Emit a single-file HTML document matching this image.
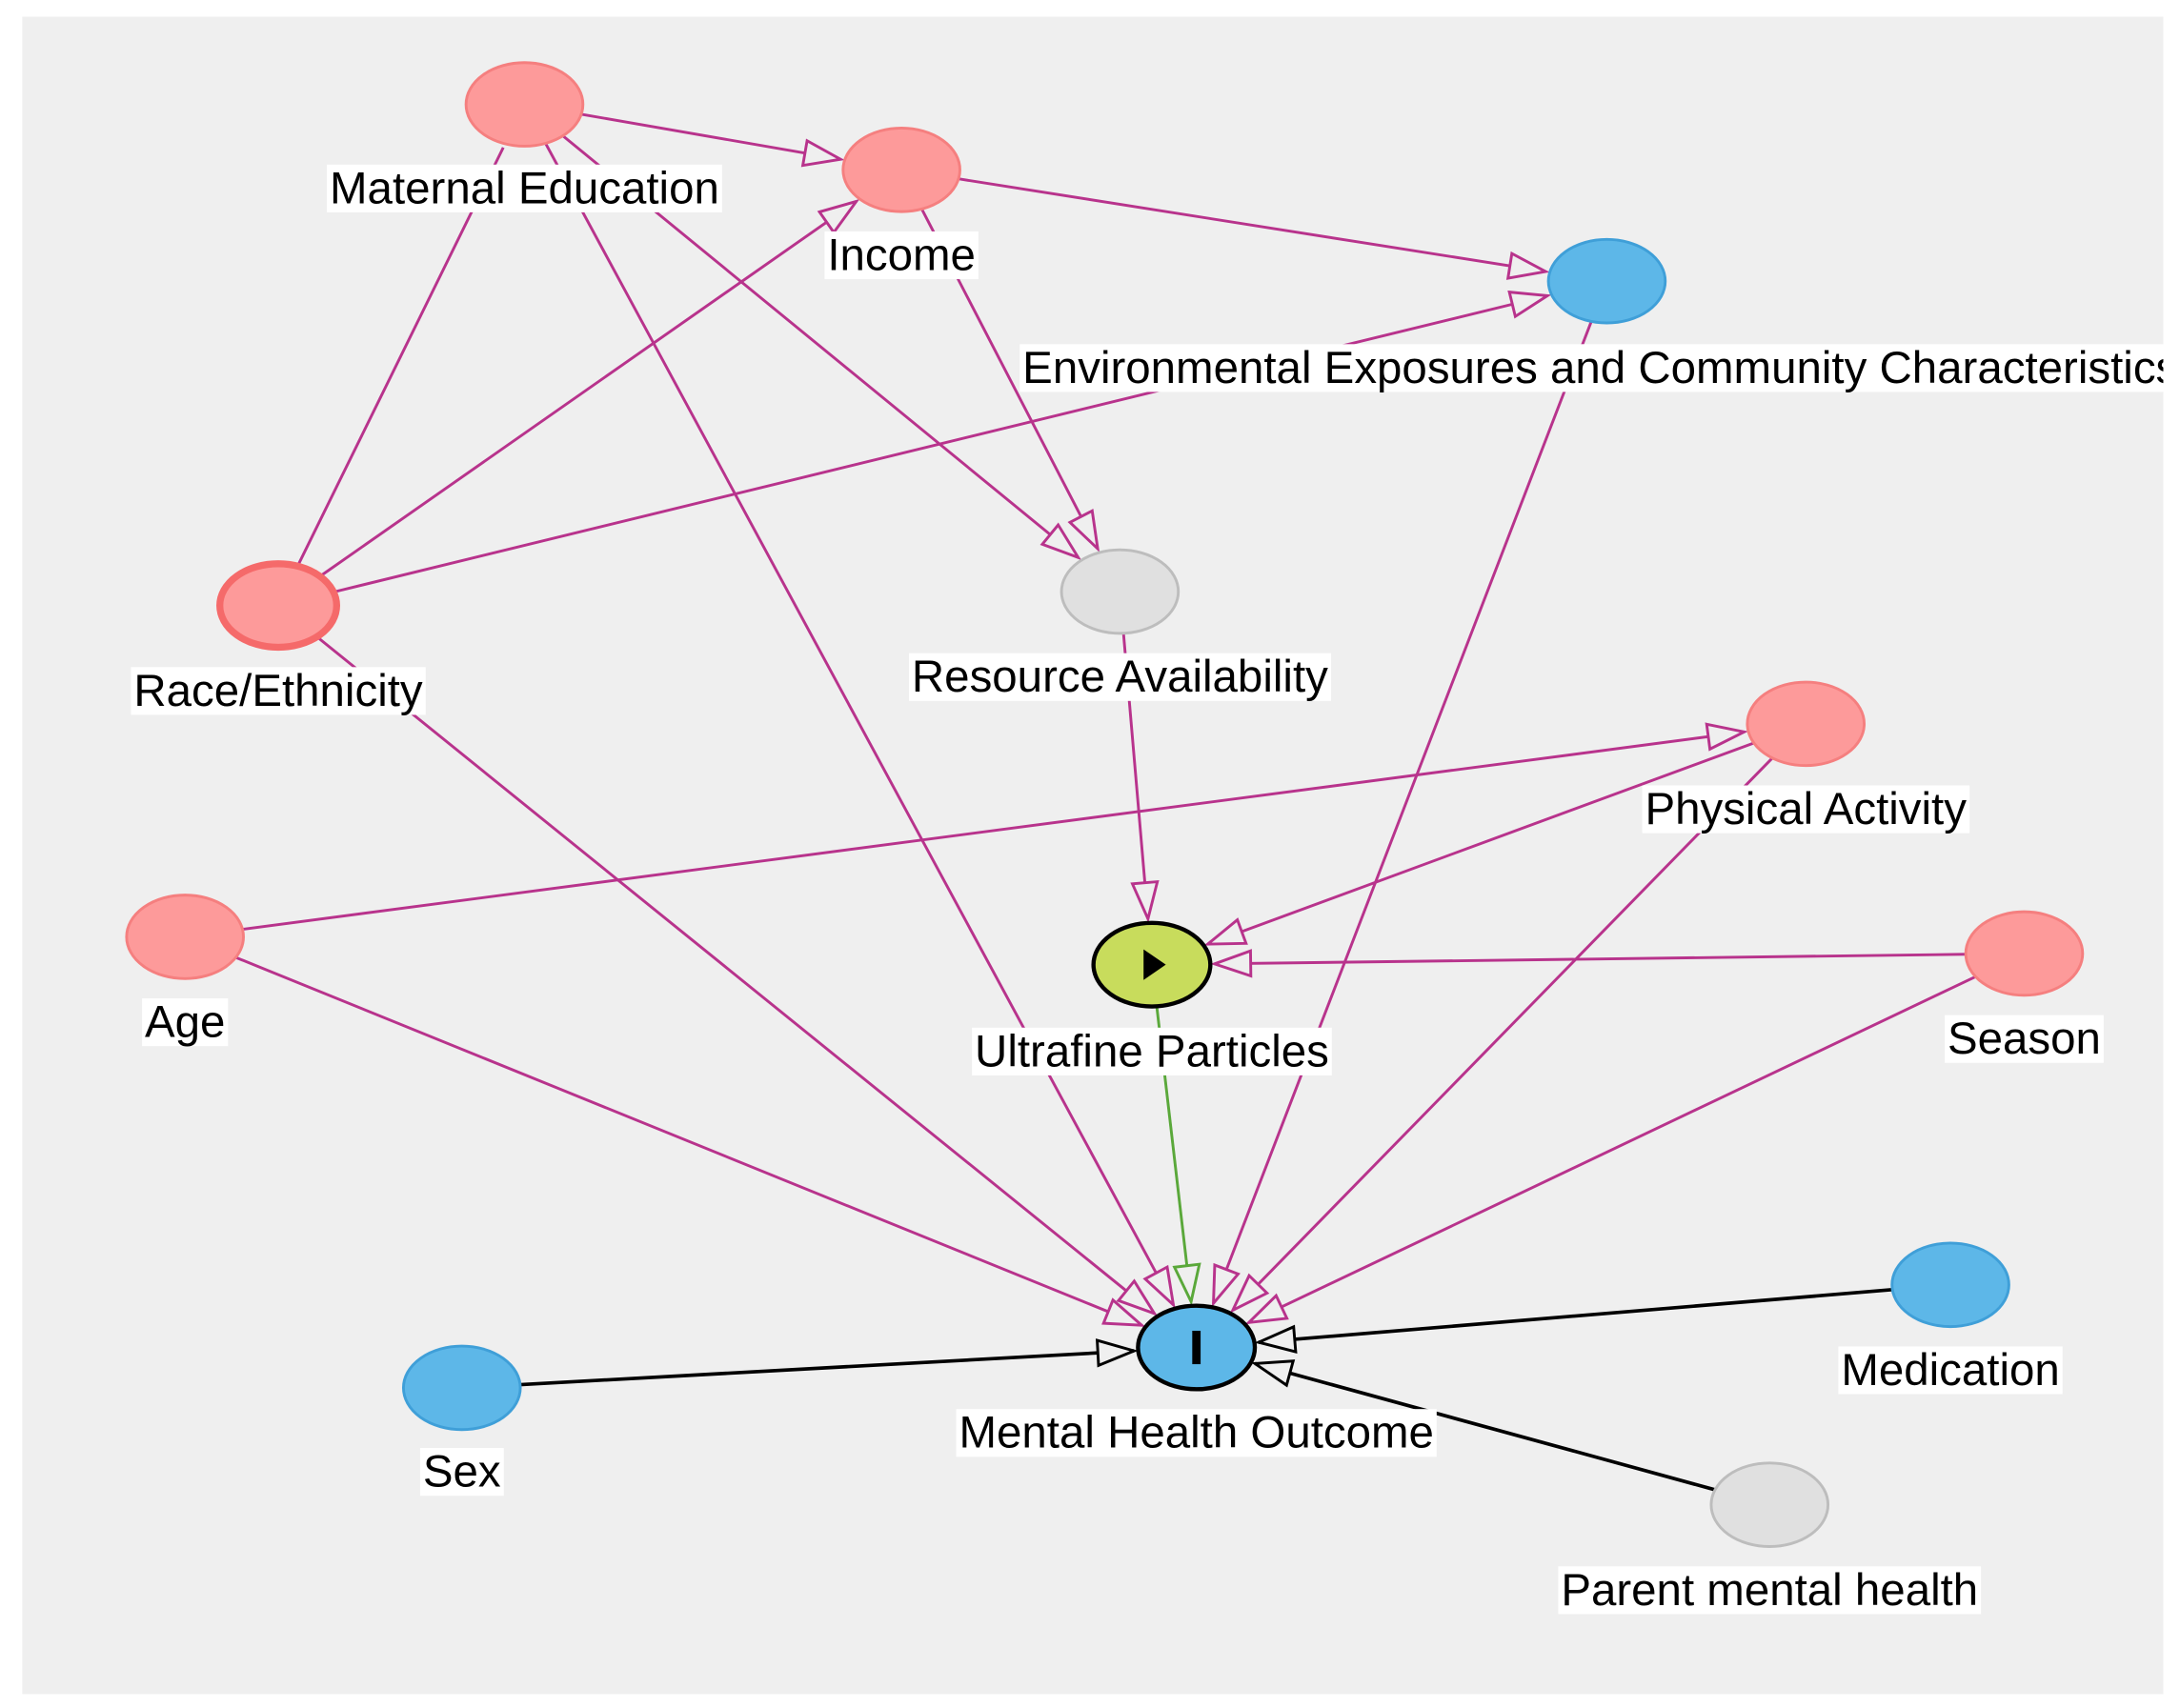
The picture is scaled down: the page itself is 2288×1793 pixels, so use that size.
<!DOCTYPE html>
<html><head><meta charset="utf-8"><style>
html,body{margin:0;padding:0;background:#fff;}
svg{display:block;}
text{font-family:"Liberation Sans",Arial,sans-serif;font-size:32.5px;fill:#000;}
</style></head><body>
<svg id="s" width="2288" height="1793" viewBox="0 0 1567 1227" preserveAspectRatio="none" xmlns="http://www.w3.org/2000/svg">
<defs>
<marker id="mp" markerUnits="userSpaceOnUse" markerWidth="32" markerHeight="24" refX="28" refY="11" orient="auto"><path d="M2,2 L28,11 L2,20 Z" fill="#efefef" stroke="#b8338c" stroke-width="2"/></marker>
<marker id="mg" markerUnits="userSpaceOnUse" markerWidth="32" markerHeight="24" refX="28" refY="11" orient="auto"><path d="M2,2 L28,11 L2,20 Z" fill="#efefef" stroke="#5aa83a" stroke-width="2"/></marker>
<marker id="mk" markerUnits="userSpaceOnUse" markerWidth="32" markerHeight="24" refX="28" refY="11" orient="auto"><path d="M2,2 L28,11 L2,20 Z" fill="#efefef" stroke="#000" stroke-width="2"/></marker>
<clipPath id="cp"><rect x="16" y="12" width="1539" height="1205"/></clipPath>
</defs>
<rect x="16" y="12" width="1539" height="1205" fill="#efefef"/>
<g id="edges"></g>
<g id="labels" clip-path="url(#cp)">
<text x="377" y="146" text-anchor="middle">Maternal Education</text>
<text x="648" y="194" text-anchor="middle">Income</text>
<text x="735" y="275">Environmental Exposures and Community Characteristics</text>
<text x="200" y="507" text-anchor="middle">Race/Ethnicity</text>
<text x="805" y="497" text-anchor="middle">Resource Availability</text>
<text x="1298" y="592" text-anchor="middle">Physical Activity</text>
<text x="133" y="745" text-anchor="middle">Age</text>
<text x="828" y="766" text-anchor="middle">Ultrafine Particles</text>
<text x="1455" y="757" text-anchor="middle">Season</text>
<text x="1402" y="995" text-anchor="middle">Medication</text>
<text x="860" y="1040" text-anchor="middle">Mental Health Outcome</text>
<text x="332" y="1068" text-anchor="middle">Sex</text>
<text x="1272" y="1153" text-anchor="middle">Parent mental health</text>
</g>
<g id="nodes"></g>
</svg>
<script>
var N={
ME:[377,75,'#fd9a9a','#f57f7f',2],
IN:[648,122,'#fd9a9a','#f57f7f',2],
EN:[1155,202,'#5db7e8','#3f9fd8',2],
RA:[200,435,'#fd9a9a','#f56a6a',5],
RE:[805,425,'#e0e0e0','#bdbdbd',2],
PA:[1298,520,'#fd9a9a','#f57f7f',2],
AG:[133,673,'#fd9a9a','#f57f7f',2],
UF:[828,693,'#c8dc5c','#000',3],
SE:[1455,685,'#fd9a9a','#f57f7f',2],
MD:[1402,923,'#5db7e8','#3f9fd8',2],
MH:[860,968,'#5db7e8','#000',3],
SX:[332,997,'#5db7e8','#3f9fd8',2],
PM:[1272,1081,'#e0e0e0','#bdbdbd',2]};
var E=[['ME','IN','p'],['RA','ME','n'],['ME','RE','p'],['ME','MH','p'],['IN','EN','p'],['IN','RE','p'],['RA','IN','p'],['RA','EN','p'],['RA','MH','p'],['EN','MH','p'],['RE','UF','p'],['AG','PA','p'],['AG','MH','p'],['PA','UF','p'],['PA','MH','p'],['SE','UF','p'],['SE','MH','p'],['UF','MH','g'],['SX','MH','k'],['MD','MH','k'],['PM','MH','k']];
var ns='http://www.w3.org/2000/svg',s=document.getElementById('s');
var ge=document.getElementById('edges'),gn=document.getElementById('nodes');
var RX=42,RY=30;
function bd(dx,dy){return 1/Math.sqrt(dx*dx/(RX*RX)+dy*dy/(RY*RY));}
E.forEach(function(e){var a=N[e[0]],b=N[e[1]];var dx=b[0]-a[0],dy=b[1]-a[1];var L=Math.sqrt(dx*dx+dy*dy);
var t1=bd(dx,dy),t2=bd(dx,dy);var x1=a[0]+dx*t1,y1=a[1]+dy*t1,x2=b[0]-dx*(t2+3/L),y2=b[1]-dy*(t2+3/L);
var l=document.createElementNS(ns,'line');l.setAttribute('x1',x1);l.setAttribute('y1',y1);l.setAttribute('x2',x2);l.setAttribute('y2',y2);
var c=e[2]=='g'?'#5aa83a':e[2]=='k'?'#000':'#b8338c';l.setAttribute('stroke',c);l.setAttribute('stroke-width',e[2]=='k'?2.5:2);
if(e[2]=='p')l.setAttribute('marker-end','url(#mp)');if(e[2]=='g')l.setAttribute('marker-end','url(#mg)');if(e[2]=='k')l.setAttribute('marker-end','url(#mk)');
ge.appendChild(l);});
for(var k in N){var n=N[k];var el=document.createElementNS(ns,'ellipse');el.setAttribute('cx',n[0]);el.setAttribute('cy',n[1]);el.setAttribute('rx',RX);el.setAttribute('ry',RY);el.setAttribute('fill',n[2]);el.setAttribute('stroke',n[3]);el.setAttribute('stroke-width',n[4]);gn.appendChild(el);}
var p=document.createElementNS(ns,'path');p.setAttribute('d','M822,682 L838,693 L822,704 Z');p.setAttribute('fill','#000');gn.appendChild(p);
var r=document.createElementNS(ns,'rect');r.setAttribute('x',857);r.setAttribute('y',956);r.setAttribute('width',6);r.setAttribute('height',24);r.setAttribute('fill','#000');gn.appendChild(r);
var lg=document.getElementById('labels');Array.prototype.slice.call(lg.querySelectorAll('text')).forEach(function(t){var b=t.getBBox();var q=document.createElementNS(ns,'rect');q.setAttribute('x',b.x-2);q.setAttribute('y',b.y+1);q.setAttribute('width',b.width+4);q.setAttribute('height',b.height-2);q.setAttribute('fill','#fff');lg.insertBefore(q,t);});
</script>
</body></html>
